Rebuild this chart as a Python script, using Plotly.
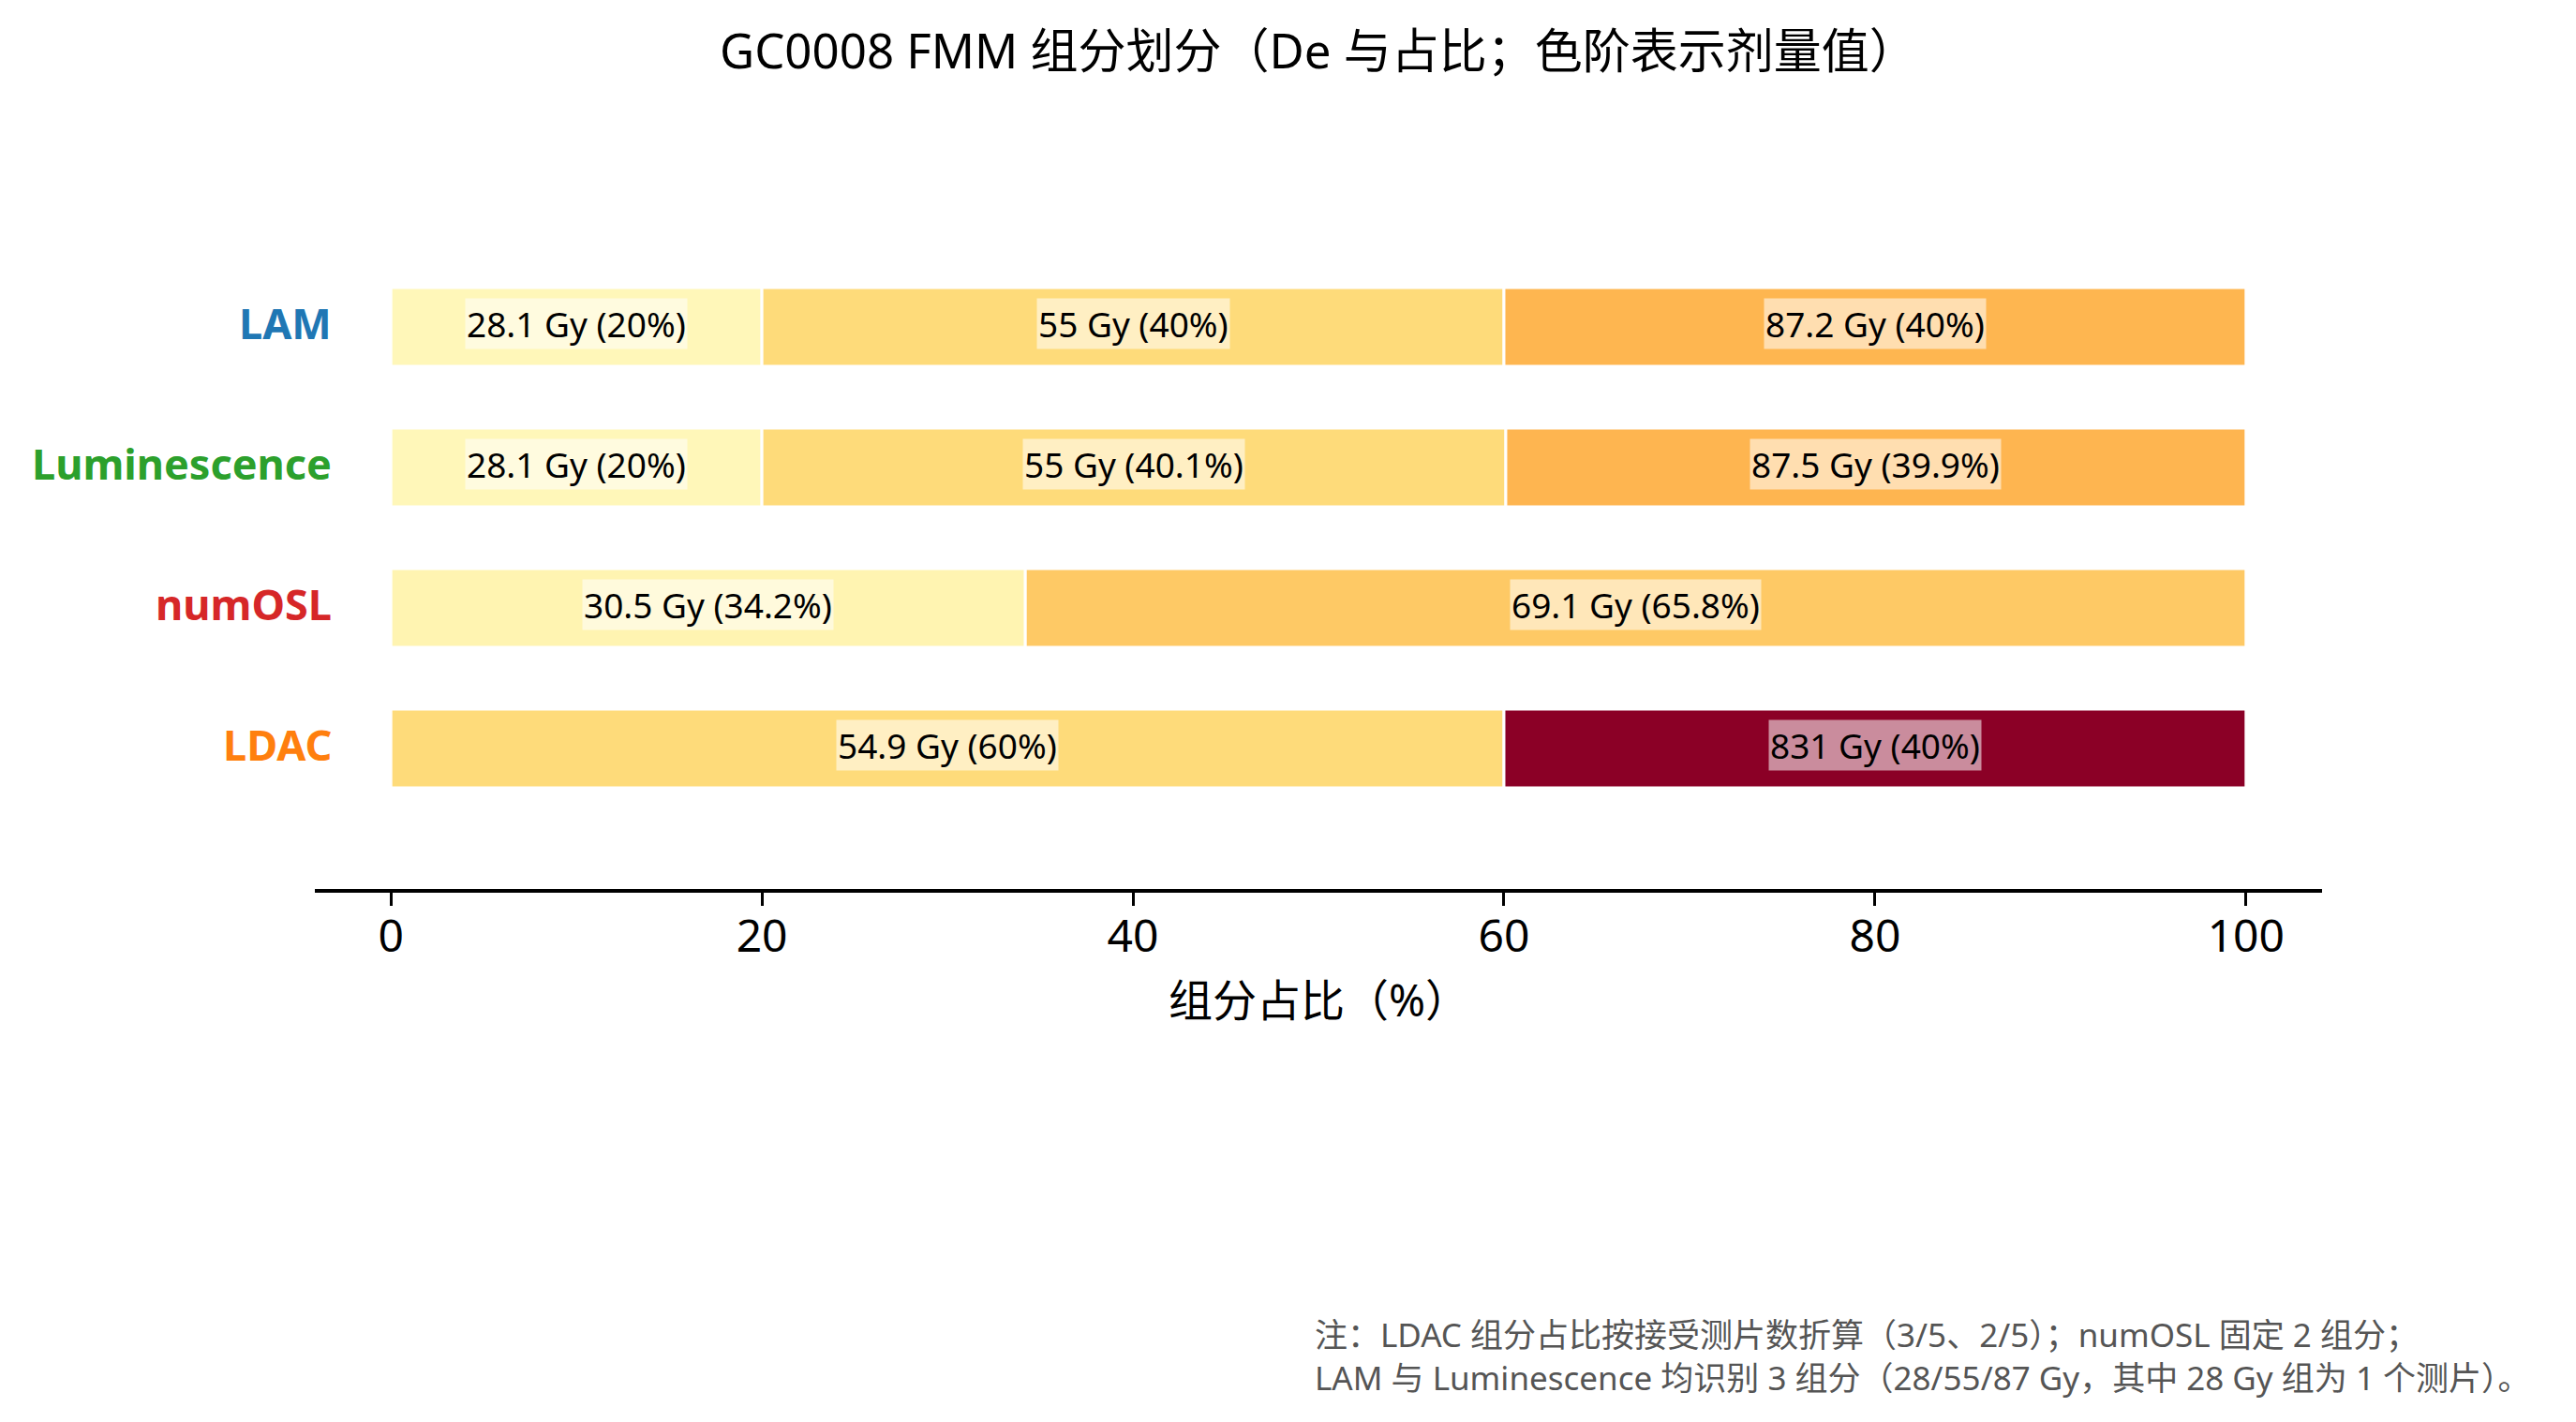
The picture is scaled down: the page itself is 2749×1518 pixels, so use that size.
import numpy as np
import plotly.graph_objects as go
from plotly.colors import sample_colorscale

# Methods, top to bottom
methods = ["LAM", "Luminescence", "numOSL", "LDAC"]

# FMM components per method: De (Gy) and fraction (%)
lam_de = [28.1, 55, 87.2]
lam_pct = [20, 40, 40]
lum_de = [28.1, 55, 87.5]
lum_pct = [20, 40.1, 39.9]
numosl_de = [30.5, 69.1]
numosl_pct = [34.2, 65.8]
ldac_de = [54.9, 831]
ldac_pct = [60, 40]

x_ticks = [0, 20, 40, 60, 80, 100]

title_text = "GC0008 FMM 组分划分（De 与占比；色阶表示剂量值）"
x_title = "组分占比（%）"
note_text = ("注：LDAC 组分占比按接受测片数折算（3/5、2/5）；numOSL 固定 2 组分；<br>"
             "LAM 与 Luminescence 均识别 3 组分（28/55/87 Gy，其中 28 Gy 组为 1 个测片）。")

method_colors = {"LAM": "#1f77b4", "Luminescence": "#2ca02c",
                 "numOSL": "#d62728", "LDAC": "#ff7f0e"}

de_lists = [lam_de, lum_de, numosl_de, ldac_de]
pct_lists = [lam_pct, lum_pct, numosl_pct, ldac_pct]

FONT = "Noto Sans, Noto Sans CJK SC"

# log colour scale for dose
vmin, vmax = 23.0, 900.0
def dose_color(v):
    t = (np.log(v) - np.log(vmin)) / (np.log(vmax) - np.log(vmin))
    t = float(np.clip(t, 0, 1))
    return sample_colorscale("YlOrRd", [t])[0]

fig = go.Figure()
annotations = []
n = len(methods)

for i, (name, des, pcts) in enumerate(zip(methods, de_lists, pct_lists)):
    ypos = n - 1 - i
    left = 0.0
    for de, pct in zip(des, pcts):
        fig.add_trace(go.Bar(
            x=[pct], y=[ypos], base=[left], orientation="h",
            width=0.56,
            marker=dict(color=dose_color(de), line=dict(color="white", width=3)),
            showlegend=False, hoverinfo="skip"
        ))
        annotations.append(dict(
            x=left + pct / 2, y=ypos, xref="x", yref="y", yshift=4,
            text=f"{de:g} Gy ({pct:g}%)", showarrow=False,
            font=dict(family=FONT, size=37, color="black"),
            bgcolor="rgba(255,255,255,0.55)", borderpad=1
        ))
        left += pct
    # method label
    annotations.append(dict(
        x=0.0095, y=ypos, xref="paper", yref="y", xanchor="right", yanchor="middle",
        yshift=5, text=f"<b>{name}</b>", showarrow=False,
        font=dict(family=FONT, size=45, color=method_colors[name])
    ))

annotations.append(dict(
    x=0.5, y=1.195, xref="paper", yref="paper", yanchor="middle",
    text=title_text, showarrow=False,
    font=dict(family=FONT, size=51, color="black")
))
annotations.append(dict(
    x=0.5, y=-0.157, xref="paper", yref="paper", yanchor="middle",
    text=x_title, showarrow=False,
    font=dict(family=FONT, size=47, color="black")
))
annotations.append(dict(
    x=1.105, y=-0.664, xref="paper", yref="paper", xanchor="right", yanchor="middle",
    align="left", text=note_text, showarrow=False,
    font=dict(family=FONT, size=35, color="#555555")
))

fig.update_layout(
    width=2733, height=1502,
    margin=dict(l=328, r=263, t=191, b=561),
    paper_bgcolor="white", plot_bgcolor="white",
    barmode="overlay",
    annotations=annotations,
    xaxis=dict(
        range=[-4.1, 104.1], tickvals=x_ticks, ticks="outside", ticklen=14,
        tickwidth=3, tickcolor="black", showline=True, linecolor="black",
        linewidth=3.5, showgrid=False, zeroline=False, ticklabelstandoff=-8,
        tickfont=dict(family=FONT, size=48, color="black")
    ),
    yaxis=dict(
        range=[-1, 4], showticklabels=False, showgrid=False, zeroline=False,
        showline=False, ticks=""
    ),
)

fig.write_html("out.html")
